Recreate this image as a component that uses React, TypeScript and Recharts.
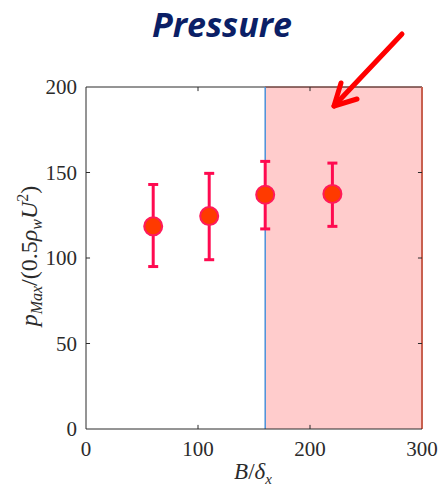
import React from 'react';
import {
  ComposedChart,
  Scatter,
  ErrorBar,
  XAxis,
  YAxis,
  ReferenceArea,
  ReferenceLine,
  Label
} from 'recharts';

// values
const widths = [60, 110, 160, 220];
const peakMeans = [118.5, 124.5, 137, 137.5];
const peakUpper = [143, 149.5, 156.5, 155.5];
const peakLower = [95, 99, 117, 118.5];

const xTicks = [0, 100, 200, 300];
const yTicks = [0, 50, 100, 150, 200];
const xTickValues = [100, 200];
const yTickValues = [50, 100, 150];

const shadeStart = 160;
const shadeEnd = 300;

const data = widths.map((w, i) => ({
  w,
  p: peakMeans[i],
  err: [peakMeans[i] - peakLower[i], peakUpper[i] - peakMeans[i]]
}));

const serif = 'Liberation Serif, DejaVu Serif, serif';
const axisColor = '#2b2b2b';

const Marker = (props: any) => (
  <circle cx={props.cx} cy={props.cy} r={9} fill="#ff3a00" stroke="#ff1a5a" strokeWidth={2} />
);

const YTitle = (props: any) => {
  const cx = 37;
  const cy = 256;
  return (
    <text
      x={cx}
      y={cy}
      transform={`rotate(-90 ${cx} ${cy})`}
      textAnchor="middle"
      style={{ fontFamily: serif }}
      fontSize={24}
      fill={axisColor}
    >
      <tspan fontStyle="italic">p</tspan>
      <tspan fontStyle="italic" fontSize={16} dy={5}>Max</tspan>
      <tspan dy={-5}>/(0.5</tspan>
      <tspan fontStyle="italic">ρ</tspan>
      <tspan fontStyle="italic" fontSize={16} dy={5}>w</tspan>
      <tspan fontStyle="italic" dy={-5}>U</tspan>
      <tspan fontSize={16} dy={-9}>2</tspan>
      <tspan dy={9}>)</tspan>
    </text>
  );
};

const XTitle = (props: any) => (
  <text x={253} y={479} textAnchor="middle" style={{ fontFamily: serif }} fontSize={23} fill={axisColor}>
    <tspan fontStyle="italic">B</tspan>
    <tspan>/</tspan>
    <tspan fontStyle="italic">δ</tspan>
    <tspan fontStyle="italic" fontSize={15} dy={5}>x</tspan>
  </text>
);

export default function App() {
  return (
    <div style={{ position: 'absolute', left: 0, top: 0, width: 439, height: 487, background: '#fff', fontFamily: serif }}>
      <ComposedChart
        width={439}
        height={487}
        data={data}
        margin={{ top: 87, right: 17, bottom: 0, left: 0 }}
        style={{ fontFamily: serif }}
      >
        <ReferenceArea
          x1={shadeStart}
          x2={shadeEnd}
          y1={0}
          y2={200}
          fill="#ffcccc"
          fillOpacity={1}
          stroke="none"
        />
        <XAxis
          dataKey="w"
          type="number"
          domain={[0, 300]}
          ticks={xTicks}
          height={58}
          tickSize={0}
          tickMargin={12}
          stroke={axisColor}
          tick={{ fontFamily: serif, fontSize: 21, fill: axisColor }}
        >
          <Label content={<XTitle />} />
        </XAxis>
        <YAxis
          type="number"
          domain={[0, 200]}
          ticks={yTicks}
          width={86}
          tickSize={0}
          tickMargin={9}
          stroke={axisColor}
          tick={{ fontFamily: serif, fontSize: 21, fill: axisColor }}
        >
          <Label content={<YTitle />} />
        </YAxis>
        <ReferenceLine y={200} stroke={axisColor} strokeWidth={1} />
        <ReferenceLine segment={[{ x: shadeStart, y: 200 }, { x: shadeEnd, y: 200 }]} stroke="#8a4a44" strokeWidth={1} />
        <ReferenceLine x={shadeEnd} stroke="#c8604f" strokeWidth={2} />
        {xTickValues.map((v) => (
          <ReferenceLine key={'xb' + v} segment={[{ x: v, y: 0 }, { x: v, y: 2.4 }]} stroke={axisColor} />
        ))}
        {xTickValues.map((v) => (
          <ReferenceLine key={'xt' + v} segment={[{ x: v, y: 200 }, { x: v, y: 197.6 }]} stroke={axisColor} />
        ))}
        {yTickValues.map((v) => (
          <ReferenceLine key={'yl' + v} segment={[{ x: 0, y: v }, { x: 3.6, y: v }]} stroke={axisColor} />
        ))}
        {yTickValues.map((v) => (
          <ReferenceLine key={'yr' + v} segment={[{ x: 300, y: v }, { x: 296.4, y: v }]} stroke={axisColor} />
        ))}
        <ReferenceLine x={shadeStart} stroke="#4a90d9" strokeWidth={1.5} />
        <Scatter dataKey="p" shape={<Marker />} isAnimationActive={false}>
          <ErrorBar dataKey="err" direction="y" width={5} stroke="#ff0a50" strokeWidth={3} />
        </Scatter>
      </ComposedChart>
      <svg
        width={439}
        height={487}
        style={{ position: 'absolute', left: 0, top: 0, pointerEvents: 'none' }}
      >
        <text
          x={222}
          y={37}
          textAnchor="middle"
          style={{ fontFamily: 'Open Sans, DejaVu Sans, sans-serif' }}
          fontWeight="bold"
          fontStyle="italic"
          fontSize={34}
          fill="#0b1f66"
        >
          Pressure
        </text>
        <g stroke="#ff0000" strokeWidth={5} strokeLinecap="round" strokeLinejoin="round" fill="none">
          <line x1={402} y1={34} x2={334} y2={106} />
          <polyline points="341,83 334,106 357,99" />
        </g>
      </svg>
    </div>
  );
}
